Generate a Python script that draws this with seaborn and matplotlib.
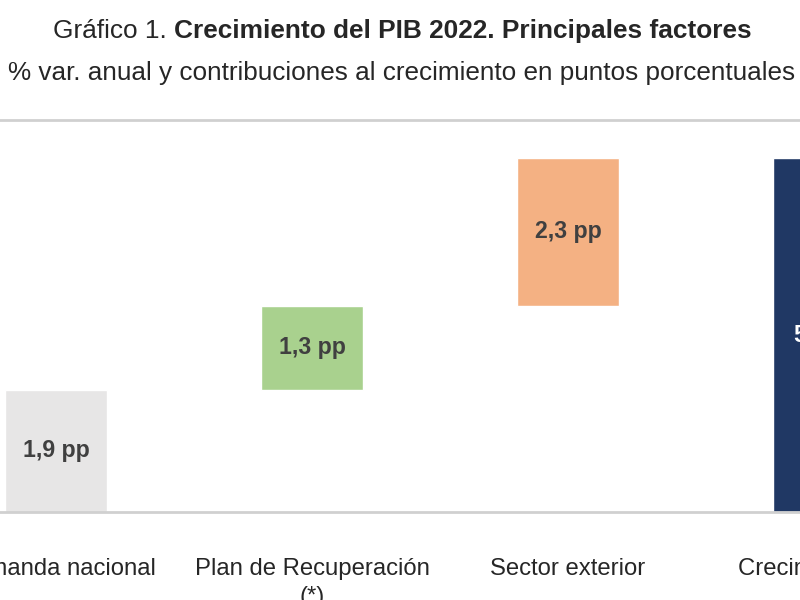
import matplotlib
matplotlib.use("Agg")
import matplotlib.pyplot as plt
import seaborn as sns
import numpy as np

# data
categories = ["Demanda nacional", "Plan de Recuperación\n(*)", "Sector exterior", "Crecimiento PIB"]
contributions = [1.9, 1.3, 2.3]
total_growth = 5.5
value_labels = ["1,9 pp", "1,3 pp", "2,3 pp", "5,5 %"]
bar_colors = ["#e7e6e6", "#a9d18e", "#f4b183", "#203864"]
label_colors = ["#404040", "#404040", "#404040", "#ffffff"]

# waterfall: floating bars for contributions, full bar for total
heights = contributions + [total_growth]
bottoms = list(np.cumsum([0] + contributions[:-1])) + [0]

sns.set_theme(style="white")
plt.rcParams["font.family"] = ["Liberation Sans", "DejaVu Sans"]

fig = plt.figure(figsize=(8, 6), dpi=100)
ax = fig.add_axes([-0.09, 0.1467, 1.28, 0.6533])

sns.barplot(x=categories, y=heights, hue=categories, palette=bar_colors,
            legend=False, width=0.4, ax=ax, saturation=1)

for patch, b, h in zip(ax.patches, bottoms, heights):
    patch.set_y(b)
    patch.set_height(h)

for i, (b, h, lab, c) in enumerate(zip(bottoms, heights, value_labels, label_colors)):
    ax.text(i, b + h / 2, lab, ha="center", va="center", fontsize=16.7,
            fontweight="bold", color=c)

ax.set_xlim(-0.5, 3.5)
ax.set_ylim(0, 6.09)
ax.set_yticks([])
ax.set_ylabel("")
ax.tick_params(axis="x", length=0, pad=33, labelsize=17.2, labelcolor="#262626")
for lbl in ax.get_xticklabels():
    lbl.set_linespacing(1.35)

for side in ["left", "right"]:
    ax.spines[side].set_visible(False)
for side in ["top", "bottom"]:
    ax.spines[side].set_color("#d0d0d0")
    ax.spines[side].set_linewidth(2)

fig.text(0.208, 0.949, "Gráfico 1.", ha="right", va="center", fontsize=18.9, color="#262626")
fig.text(0.2175, 0.949, "Crecimiento del PIB 2022. Principales factores", ha="left",
         va="center", fontsize=18.9, fontweight="bold", color="#262626")
fig.text(0.5016, 0.879, "% var. anual y contribuciones al crecimiento en puntos porcentuales",
         ha="center", va="center", fontsize=18.8, color="#262626")

fig.savefig("out.png", dpi=100)
